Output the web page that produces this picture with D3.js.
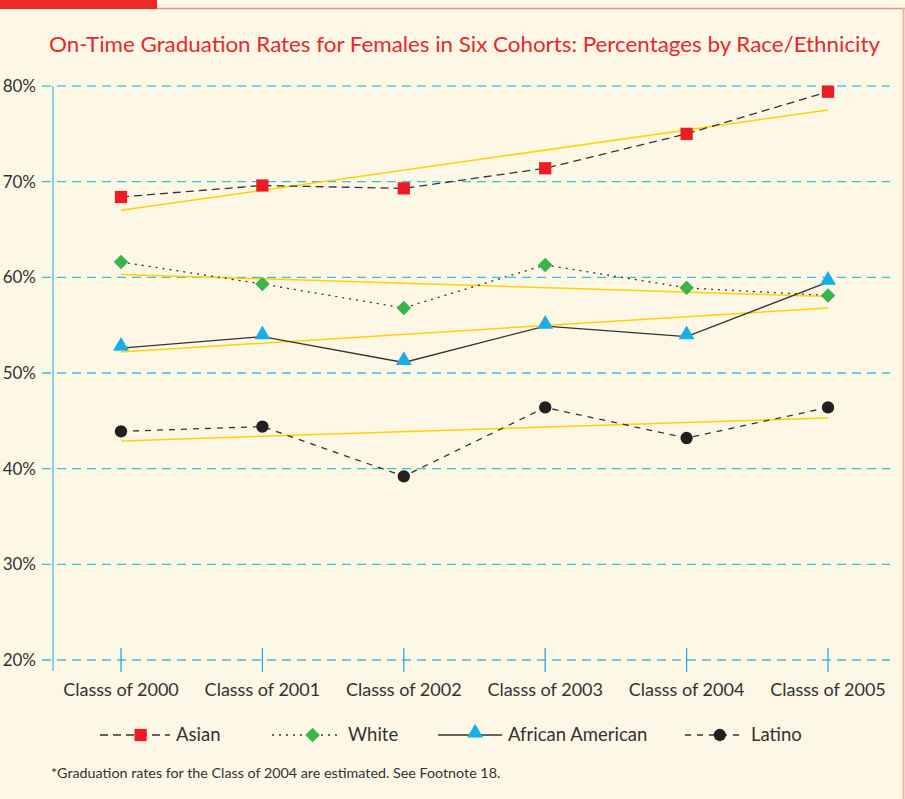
<!DOCTYPE html>
<meta charset="utf-8">
<title>On-Time Graduation Rates</title>
<script src="https://d3js.org/d3.v7.min.js"></script>
<style>
  body { margin: 0; background: #fdf7e6; }
  svg text { font-family: Lato, "Noto Sans", sans-serif; fill: #333; }
</style>
<body>
<div id="chart"></div>
<script>

// values (percent)
var classes = ["Classs of 2000", "Classs of 2001", "Classs of 2002", "Classs of 2003", "Classs of 2004", "Classs of 2005"];
var asian    = [68.4, 69.6, 69.3, 71.4, 75.0, 79.4];
var white    = [61.6, 59.3, 56.8, 61.3, 58.9, 58.1];
var african  = [52.6, 53.8, 51.1, 54.9, 53.8, 59.5];
var latino   = [43.9, 44.4, 39.2, 46.4, 43.2, 46.4];
// yellow trend lines: value at first and last class
var trendStart = [67.0, 60.3, 52.2, 42.9];
var trendEnd   = [77.5, 58.0, 56.8, 45.3];
var yTicks = [20, 30, 40, 50, 60, 70, 80];
var seriesNames = ["Asian", "White", "African American", "Latino"];

var width = 905, height = 799;

var svg = d3.select("#chart")
  .append("svg")
    .attr("width", width)
    .attr("height", height);

svg.append("rect").attr("width", width).attr("height", height).attr("fill", "#fdf7e6");

// top decoration
svg.append("line").attr("x1", 150).attr("x2", width).attr("y1", 8.5).attr("y2", 8.5)
  .attr("stroke", "#f08a80").attr("stroke-width", 1.5);
svg.append("rect").attr("x", 0).attr("y", 0).attr("width", 157).attr("height", 9).attr("fill", "#ee2a24");
svg.append("line").attr("x1", 903.5).attr("x2", 903.5).attr("y1", 8).attr("y2", height)
  .attr("stroke", "#f4b0a6").attr("stroke-width", 2);

svg.append("text")
  .attr("x", 49).attr("y", 52)
  .style("font-size", "22px")
  .style("fill", "#e8282e")
  .attr("textLength", 831)
  .attr("lengthAdjust", "spacingAndGlyphs")
  .text("On-Time Graduation Rates for Females in Six Cohorts: Percentages by Race/Ethnicity");

var x = d3.scalePoint()
  .domain(classes)
  .range([121, 828]);

var y = d3.scaleLinear()
  .domain([20, 80])
  .range([660, 86]);

// grid
svg.append("g").selectAll("line")
  .data(yTicks)
  .enter()
  .append("line")
    .attr("x1", 42).attr("x2", 890)
    .attr("y1", function(d) { return y(d); })
    .attr("y2", function(d) { return y(d); })
    .attr("stroke", function(d) { return d == 80 ? "#7fd3ee" : "#3cbde9"; })
    .attr("stroke-width", function(d) { return d == 80 ? 2 : 1.3; })
    .attr("stroke-dasharray", "9,6");

svg.append("g").selectAll("text")
  .data(yTicks)
  .enter()
  .append("text")
    .attr("x", 36)
    .attr("y", function(d) { return y(d) + 6; })
    .attr("text-anchor", "end")
    .style("font-size", "17px")
    .text(function(d) { return d + "%"; });

// y axis line
svg.append("line").attr("x1", 53).attr("x2", 53).attr("y1", y(80)).attr("y2", 671)
  .attr("stroke", "#5cc6ea").attr("stroke-width", 1.5);

// category ticks + labels
svg.append("g").selectAll("line")
  .data(classes)
  .enter()
  .append("line")
    .attr("x1", function(d) { return x(d); })
    .attr("x2", function(d) { return x(d); })
    .attr("y1", 648).attr("y2", 672)
    .attr("stroke", "#29aae1").attr("stroke-width", 1.3);

svg.append("g").selectAll("text")
  .data(classes)
  .enter()
  .append("text")
    .attr("x", function(d) { return x(d); })
    .attr("y", 696)
    .attr("text-anchor", "middle")
    .style("font-size", "18px")
    .text(function(d) { return d; });

// trend lines
var allSeries = [asian, white, african, latino];
svg.append("g").selectAll("line")
  .data(seriesNames)
  .enter()
  .append("line")
    .attr("x1", x(classes[0]))
    .attr("x2", x(classes[classes.length - 1]))
    .attr("y1", function(d, i) { return y(trendStart[i]); })
    .attr("y2", function(d, i) { return y(trendEnd[i]); })
    .attr("stroke", "#ffd200").attr("stroke-width", 1.5);

var dashes = ["8,5", "2,5", null, "6,6"];

var line = d3.line()
  .x(function(d, i) { return x(classes[i]); })
  .y(function(d) { return y(d); });

svg.append("g").selectAll("path")
  .data(allSeries)
  .enter()
  .append("path")
    .attr("d", line)
    .attr("fill", "none")
    .attr("stroke", "#333")
    .attr("stroke-width", 1.3)
    .attr("stroke-dasharray", function(d, i) { return dashes[i]; });

// markers
var markerColors = ["#ed1c24", "#39b54a", "#19aee8", "#231f20"];
var symbols = [d3.symbolSquare, d3.symbolSquare, d3.symbolTriangle, d3.symbolCircle];
var symSizes = [150, 105, 110, 120];

function drawMarker(g, i, cx, cy) {
  var t = "translate(" + cx + "," + cy + ")";
  if (i == 1) t += " rotate(45)";
  if (i == 2) t += " translate(0,-2)";
  g.append("path")
    .attr("d", d3.symbol().type(symbols[i]).size(symSizes[i]))
    .attr("transform", t)
    .attr("fill", markerColors[i]);
}

allSeries.forEach(function(s, i) {
  var g = svg.append("g");
  s.forEach(function(v, j) { drawMarker(g, i, x(classes[j]), y(v)); });
});

// legend
var legX = [100, 272, 438, 685];
var legY = 735;
seriesNames.forEach(function(name, i) {
  var g = svg.append("g");
  var w = i == 3 ? 60 : (i == 2 ? 64 : 70);
  g.append("line")
    .attr("x1", legX[i]).attr("x2", legX[i] + w)
    .attr("y1", legY).attr("y2", legY)
    .attr("stroke", "#333").attr("stroke-width", 1.3)
    .attr("stroke-dasharray", dashes[i]);
  drawMarker(g, i, legX[i] + w * 0.58, legY);
  g.append("text")
    .attr("x", legX[i] + w + 6)
    .attr("y", legY + 6)
    .style("font-size", "18.5px")
    .text(name);
});

svg.append("text")
  .attr("x", 51).attr("y", 778)
  .style("font-size", "14.3px")
  .text("*Graduation rates for the Class of 2004 are estimated. See Footnote 18.");

</script>
</body>
